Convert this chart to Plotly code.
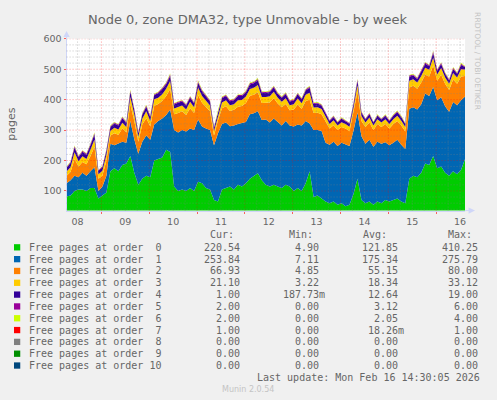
import plotly.graph_objects as go
import pandas as pd

W, H = 497, 400


def px(x):
    return x / W


def py(y):
    return (H - y) / H


# ---------------- data (2-hourly samples) ----------------
times = pd.date_range("2026-02-08 06:30", "2026-02-16 14:30", freq="2h")
N = len(times)

order0 = [82, 85, 100, 105, 105, 100, 110, 110, 75, 85,
          95, 165, 175, 165, 185, 190, 215, 160, 120, 140,
          150, 145, 200, 205, 210, 235, 228, 115, 100, 105,
          100, 110, 100, 130, 125, 110, 105, 70, 65, 105,
          110, 115, 105, 120, 115, 125, 140, 150, 158, 135,
          120, 115, 120, 115, 110, 120, 115, 100, 110, 100,
          125, 165, 80, 85, 75, 65, 60, 65, 55, 60,
          50, 55, 90, 140, 70, 60, 65, 55, 65, 60,
          70, 65, 70, 75, 65, 60, 140, 150, 145, 160,
          190, 185, 215, 175, 180, 160, 150, 165, 155, 170,
          205]
order1 = [43, 50, 50, 40, 55, 50, 55, 68, 25, 30,
          55, 90, 75, 90, 77, 68, 115, 110, 102, 122,
          132, 123, 118, 125, 128, 115, 140, 185, 192, 195,
          195, 195, 200, 205, 187, 195, 195, 180, 225, 215,
          215, 198, 210, 200, 208, 202, 212, 205, 204, 198,
          215, 210, 218, 212, 205, 210, 200, 212, 208, 215,
          205, 157, 220, 215, 222, 193, 192, 197, 193, 198,
          202, 193, 208, 218, 210, 195, 203, 190, 197, 195,
          190, 185, 188, 193, 187, 178, 230, 225, 223, 225,
          230, 227, 227, 223, 228, 218, 210, 227, 227, 228,
          205]
order2 = [25, 27, 55, 35, 35, 38, 50, 67, 40, 35,
          50, 27, 40, 30, 43, 34, 55, 60, 40, 56,
          58, 44, 62, 56, 58, 62, 67, 52, 64, 62,
          55, 67, 56, 80, 78, 71, 62, 32, 42, 52,
          53, 50, 52, 57, 56, 62, 61, 61, 62, 56,
          55, 66, 67, 60, 60, 56, 50, 56, 66, 55,
          66, 78, 56, 57, 55, 70, 53, 54, 52, 52,
          53, 48, 58, 67, 50, 55, 57, 55, 58, 55,
          60, 55, 62, 62, 63, 57, 70, 71, 68, 71,
          62, 64, 70, 64, 74, 74, 72, 74, 70, 78,
          68]
order3 = [14, 16, 22, 18, 19, 17, 20, 24, 15, 16,
          19, 16, 18, 17, 19, 18, 24, 21, 16, 19,
          22, 18, 21, 20, 22, 24, 26, 19, 20, 19,
          18, 21, 19, 25, 22, 20, 19, 15, 17, 19,
          20, 19, 18, 21, 20, 21, 22, 23, 24, 20,
          19, 20, 21, 19, 18, 19, 17, 17, 20, 18,
          20, 23, 18, 18, 17, 16, 15, 16, 15, 16,
          15, 15, 17, 22, 16, 15, 16, 15, 16, 15,
          16, 15, 16, 17, 16, 15, 22, 21, 20, 22,
          23, 22, 26, 21, 22, 21, 20, 22, 21, 24,
          21]
order4 = [12, 14, 16, 13, 15, 14, 15, 17, 11, 12,
          13, 12, 14, 13, 15, 13, 17, 15, 12, 14,
          15, 13, 14, 15, 16, 15, 17, 13, 14, 13,
          13, 14, 13, 16, 15, 14, 13, 11, 12, 14,
          14, 13, 13, 14, 13, 14, 15, 15, 16, 14,
          13, 14, 14, 13, 13, 14, 12, 12, 14, 13,
          14, 16, 12, 12, 11, 11, 10, 11, 10, 11,
          10, 10, 12, 15, 11, 10, 11, 10, 11, 10,
          11, 10, 11, 12, 11, 10, 13, 12, 12, 13,
          13, 12, 15, 12, 13, 12, 11, 13, 12, 14,
          8]
order5 = [3, 3, 4, 3, 3, 3, 4, 4, 2, 3,
          3, 3, 3, 3, 4, 3, 4, 3, 3, 3,
          4, 3, 3, 3, 4, 4, 5, 3, 3, 3,
          3, 3, 3, 4, 4, 3, 3, 2, 3, 3,
          3, 3, 3, 3, 3, 4, 4, 4, 4, 3,
          3, 3, 4, 3, 3, 3, 3, 3, 3, 3,
          3, 4, 3, 3, 3, 2, 2, 3, 2, 3,
          2, 2, 3, 4, 3, 2, 3, 2, 3, 2,
          3, 2, 3, 3, 3, 2, 4, 4, 3, 4,
          4, 3, 5, 3, 4, 3, 3, 4, 3, 4,
          2]
order6 = [2, 2, 2, 2, 2, 2, 2, 3, 1, 2,
          2, 2, 2, 2, 2, 2, 3, 2, 2, 2,
          2, 2, 2, 2, 2, 2, 3, 2, 2, 2,
          2, 2, 2, 3, 2, 2, 2, 1, 2, 2,
          2, 2, 2, 2, 2, 2, 2, 2, 3, 2,
          2, 2, 2, 2, 2, 2, 2, 2, 2, 2,
          2, 3, 2, 2, 2, 1, 1, 2, 1, 2,
          1, 1, 2, 3, 2, 1, 2, 1, 2, 1,
          2, 1, 2, 2, 2, 1, 2, 2, 2, 2,
          2, 2, 3, 2, 2, 2, 2, 2, 2, 3,
          2]
order7 = [0] * N
order8 = [0] * N
order9 = [0] * N
order10 = [0] * N

series = [order0, order1, order2, order3, order4, order5, order6,
          order7, order8, order9, order10]
labels = ["Free pages at order %2d" % k for k in range(11)]
colors = ["#00CC00", "#0066B3", "#FF8000", "#FFCC00", "#330099", "#990099",
          "#CCFF00", "#FF0000", "#808080", "#008F00", "#00487D"]

cur_vals = [220.54, 253.84, 66.93, 21.10, 1.00, 2.00, 2.00, 1.00, 0, 0, 0]
min_vals = [4.90, 7.11, 4.85, 3.22, 0.18773, 0, 0, 0, 0, 0, 0]
avg_vals = [121.85, 175.34, 55.15, 18.34, 12.64, 3.12, 2.05, 0.01826, 0, 0, 0]
max_vals = [410.25, 275.79, 80.00, 33.12, 19.00, 6.00, 4.00, 1.00, 0, 0, 0]

title_text = "Node 0, zone DMA32, type Unmovable - by week"
last_update = "Last update: Mon Feb 16 14:30:05 2026"

# ---------------- figure ----------------
fig = go.Figure()
for k in range(11):
    fig.add_trace(go.Scatter(
        x=times, y=series[k], stackgroup="one", mode="lines",
        line=dict(width=0, color=colors[k]), fillcolor=colors[k],
        showlegend=False, hoverinfo="skip"))

x0 = pd.Timestamp("2026-02-08 06:30")
x1 = pd.Timestamp("2026-02-16 14:30")
YMIN, YMAX = 35.5, 600

PL, PR, PT, PB = 66.7, 466.0, 33.3, 207.7
FONT = "DejaVu Sans"
MONO = "DejaVu Sans Mono"
TXT = "#666666"
AXC = "#CFD6F8"

fig.update_layout(
    width=W, height=H,
    margin=dict(l=0, r=0, t=0, b=0),
    paper_bgcolor="#F0F0F0", plot_bgcolor="#FFFFFF",
    showlegend=False,
    xaxis=dict(
        type="date", domain=[px(PL), px(PR)], range=[x0, x1],
        showgrid=False, zeroline=False,
        dtick=86400000, tick0="2026-02-08", tickformat="%d",
        ticklabelmode="period", ticks="outside", ticklen=2,
        tickcolor="rgba(255,0,0,0.6)",
        tickfont=dict(family=FONT, size=9.5, color=TXT),
        showline=True, linecolor=AXC, linewidth=1, layer="above traces",
        fixedrange=True),
    yaxis=dict(
        domain=[py(PB), py(PT)], range=[YMIN, YMAX],
        showgrid=False, zeroline=False,
        dtick=100, tick0=0, ticks="outside", ticklen=2,
        tickcolor="rgba(255,0,0,0.6)",
        tickfont=dict(family=FONT, size=9.5, color=TXT),
        showline=True, linecolor=AXC, linewidth=1, layer="above traces",
        fixedrange=True),
)

shapes = []
MINOR = "rgba(130,130,130,0.45)"
MAJOR = "rgba(255,0,0,0.40)"
# vertical grid (every 6 h minor, midnight major)
t = pd.Timestamp("2026-02-08 12:00")
while t < x1:
    major = (t.hour == 0)
    shapes.append(dict(type="line", xref="x", yref="y domain",
                       x0=t, x1=t, y0=0, y1=1, layer="above",
                       line=dict(color=MAJOR if major else MINOR, width=1,
                                 dash="1px,2px")))
    t += pd.Timedelta(hours=6)
# horizontal grid (every 20 minor, 100 major)
for v in range(40, 601, 20):
    major = (v % 100 == 0)
    shapes.append(dict(type="line", xref="x domain", yref="y",
                       x0=0, x1=1, y0=v, y1=v, layer="above",
                       line=dict(color=MAJOR if major else MINOR, width=1,
                                 dash="1px,2px")))
# axis extensions and arrows
shapes.append(dict(type="line", xref="paper", yref="paper",
                   x0=px(PL), x1=px(PL), y0=py(PT), y1=py(29), line=dict(color=AXC, width=1)))
shapes.append(dict(type="path", xref="paper", yref="paper", fillcolor=AXC, line=dict(width=0),
                   path="M %f %f L %f %f L %f %f Z" % (px(PL), py(25.5), px(PL - 3.2), py(31.5),
                                                       px(PL + 3.2), py(31.5))))
shapes.append(dict(type="line", xref="paper", yref="paper",
                   x0=px(PR), x1=px(471), y0=py(PB), y1=py(PB), line=dict(color=AXC, width=1)))
shapes.append(dict(type="path", xref="paper", yref="paper", fillcolor=AXC, line=dict(width=0),
                   path="M %f %f L %f %f L %f %f Z" % (px(476), py(PB), px(469.5), py(PB - 3.2),
                                                       px(469.5), py(PB + 3.2))))

annotations = []


def ann(text, x, y, size, color=TXT, family=FONT, xanchor="left", angle=0):
    annotations.append(dict(text=text, x=px(x), y=py(y), xref="paper", yref="paper",
                            showarrow=False, xanchor=xanchor, yanchor="middle",
                            textangle=angle,
                            font=dict(family=family, size=size, color=color)))


def fmt(v):
    if v != 0 and abs(v) < 1:
        s = "%6.2fm" % (v * 1000)
    else:
        s = "%6.2f " % v
    return s.replace(" ", "\u00a0")


ann(title_text, 248, 13.5, 13, xanchor="center")
ann("pages", 11.5, 120, 11, angle=-90, xanchor="center")
ann("RRDTOOL / TOBI OETIKER", 479, 56, 7.6, color="#C4C4C4", angle=90, xanchor="center")

ann("Cur:", 208.3, 232.3, 10, family=MONO)
ann("Min:", 287.7, 232.3, 10, family=MONO)
ann("Avg:", 361.7, 232.3, 10, family=MONO)
ann("Max:", 446.7, 232.3, 10, family=MONO)

for k in range(11):
    yy = 245 + 12 * k
    shapes.append(dict(type="rect", xref="paper", yref="paper",
                       x0=px(14), x1=px(20.3), y0=py(yy - 3.2), y1=py(yy + 3.2),
                       fillcolor=colors[k], line=dict(width=0)))
    ann(labels[k].replace(" ", "\u00a0"), 26.7, yy, 10, family=MONO)
    ann(fmt(cur_vals[k]), 202.0, yy, 10, family=MONO)
    ann(fmt(min_vals[k]), 281.6, yy, 10, family=MONO)
    ann(fmt(avg_vals[k]), 360.8, yy, 10, family=MONO)
    ann(fmt(max_vals[k]), 440.6, yy, 10, family=MONO)

ann(last_update.replace(" ", "\u00a0"), 482.5, 376.7, 10, family=MONO, xanchor="right")
ann("Munin 2.0.54", 248.8, 389.3, 8, color="#C4C4C4", xanchor="center")

fig.update_layout(shapes=shapes, annotations=annotations)
fig.write_html("out.html",
               config={"displayModeBar": False, "staticPlot": True},
               post_script="document.body.style.margin='0';"
                           "document.body.style.overflow='hidden';")
